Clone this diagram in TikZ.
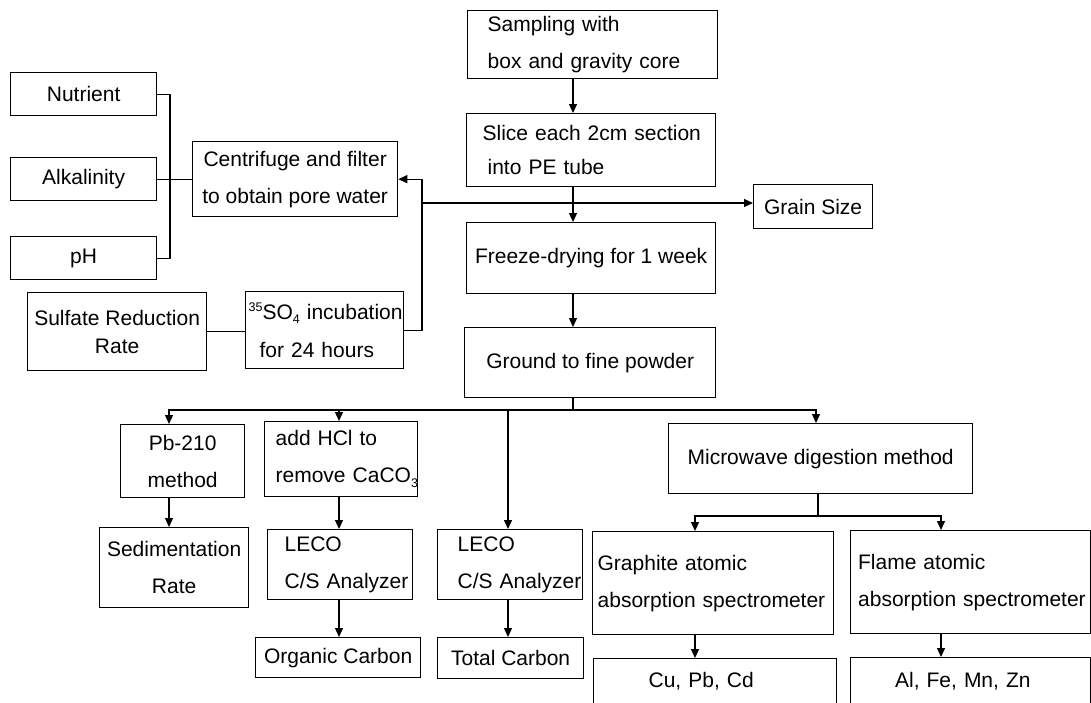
\documentclass[tikz,border=0pt]{standalone}
\usepackage{fontspec}
\setmainfont{Liberation Sans}
\usetikzlibrary{arrows.meta}
\newcommand{\mysup}[1]{\raisebox{7.5pt}{\fontsize{12.5}{12.5}\selectfont #1}}
\newcommand{\mysub}[1]{\raisebox{-4.5pt}{\fontsize{12.5}{12.5}\selectfont #1}}
\begin{document}
\begin{tikzpicture}[x=1pt,y=-1pt,
  box/.style={draw, line width=1.3pt, inner sep=0pt, anchor=north west, font=\fontsize{21}{37}\selectfont, align=center},
  lbox/.style={box, align=left},
  arr/.style={line width=1.3pt, -{Triangle[length=9pt,width=8pt]}},
  ln/.style={line width=1.3pt}]
\clip (0,0) rectangle (1091,702);
\fill[white] (0,0) rectangle (1091,702);
% top column
\node[lbox, minimum width=250pt, minimum height=68pt, text width=210pt] (samp) at (467,10) {\mbox{Sampling with}\\\mbox{box and gravity core}};
\node[lbox, minimum width=249pt, minimum height=73pt, text width=217pt, font=\fontsize{21}{34}\selectfont] (slice) at (466,113) {\mbox{Slice each 2cm section}\\\mbox{\hspace*{5pt}into PE tube}};
\node[box, minimum width=119pt, minimum height=44pt] (grain) at (753,184) {Grain Size};
\node[box, minimum width=249pt, minimum height=71pt] (freeze) at (466,222) {Freeze-drying for 1 week};
\node[box, minimum width=251pt, minimum height=70pt] (ground) at (464,327) {Ground to fine powder};
% left side
\node[box, minimum width=205pt, minimum height=75pt] (cent) at (192,141) {Centrifuge and filter\\to obtain pore water};
\node[box, minimum width=146pt, minimum height=43pt] (nut) at (10,72) {Nutrient};
\node[box, minimum width=146pt, minimum height=43pt] (alk) at (10,157) {Alkalinity};
\node[box, minimum width=146pt, minimum height=43pt] (ph) at (10,236) {pH};
\node[box, minimum width=179pt, minimum height=78pt, font=\fontsize{21}{28}\selectfont] (sulf) at (27,292) {Sulfate Reduction\\Rate};
\node[lbox, minimum width=158pt, minimum height=77pt, text width=152pt, font=\fontsize{21}{38}\selectfont] (so4) at (245,291) {\mbox{\mysup{35}SO\mysub{4} incubation}\\\mbox{\hspace*{11pt}for 24 hours}};
% bottom
\node[box, minimum width=124pt, minimum height=73pt] (pb) at (120,424) {Pb-210\\method};
\node[lbox, minimum width=153pt, minimum height=75pt, text width=131pt] (hcl) at (264,421) {\mbox{add HCl to}\\\mbox{remove CaCO\mysub{3}}};
\node[box, minimum width=149pt, minimum height=80pt] (sed) at (99,527) {Sedimentation\\Rate};
\node[lbox, minimum width=145pt, minimum height=70pt, text width=111pt] (leco1) at (267,529) {\mbox{LECO}\\\mbox{C/S Analyzer}};
\node[lbox, minimum width=145pt, minimum height=70pt, text width=105pt] (leco2) at (437,529) {\mbox{LECO}\\\mbox{C/S Analyzer}};
\node[box, minimum width=165pt, minimum height=40pt] (org) at (255,637) {Organic Carbon};
\node[box, minimum width=146pt, minimum height=41pt] (tot) at (437,637) {Total Carbon};
\node[box, minimum width=304pt, minimum height=70pt] (micro) at (668,423) {Microwave digestion method};
\node[lbox, minimum width=241pt, minimum height=103pt, text width=231pt] (graph) at (592,531) {\mbox{Graphite atomic}\\\mbox{absorption spectrometer}};
\node[lbox, minimum width=240pt, minimum height=103pt, text width=225pt] (flame) at (850,530) {\mbox{Flame atomic}\\\mbox{absorption spectrometer}};
\node[lbox, minimum width=243pt, minimum height=46pt, text width=133pt] (cu) at (593,658) {\mbox{Cu, Pb, Cd}};
\node[lbox, minimum width=240pt, minimum height=47pt, text width=151pt] (al) at (850,657) {\mbox{Al, Fe, Mn, Zn}};
% main column connectors
\coordinate (xm) at (573,0);
\draw[arr] (samp.south -| xm) -- (slice.north -| xm);
\draw[arr] (slice.south -| xm) -- (freeze.north -| xm);
\draw[arr] (freeze.south -| xm) -- (ground.north -| xm);
\coordinate (J) at (422,203);
\draw[arr] (J) -- (J -| grain.west);
\draw[arr] (so4.east) -| (J) |- (cent.east);
% left bracket
\coordinate (bx) at (170,0);
\draw[ln] (nut.east) -- (nut.east -| bx) -- (ph.east -| bx) -- (ph.east);
\draw[ln] (alk.east) -- (cent.west);
\draw[ln] (sulf.east) -- (sulf.east -| so4.west);
% bottom branches
\coordinate (B) at (573,410);
\coordinate (xa) at (169,0);
\coordinate (xb) at (339,0);
\coordinate (xe) at (508,0);
\coordinate (xd) at (816,0);
\draw[ln] (ground.south -| xm) -- (B);
\draw[arr] (B) -| (pb.north -| xa);
\draw[arr] (B) -| (hcl.north -| xb);
\draw[arr] (B) -| (leco2.north -| xe);
\draw[arr] (B) -| (micro.north -| xd);
\draw[arr] (pb.south -| xa) -- (sed.north -| xa);
\draw[arr] (hcl.south -| xb) -- (leco1.north -| xb);
\draw[arr] (leco1.south -| xb) -- (org.north -| xb);
\draw[arr] (leco2.south -| xe) -- (tot.north -| xe);
\coordinate (M) at (818,516);
\coordinate (xg) at (695,0);
\coordinate (xf) at (941,0);
\draw[ln] (micro.south -| M) -- (M);
\draw[arr] (M) -| (graph.north -| xg);
\draw[arr] (M) -| (flame.north -| xf);
\draw[arr] (graph.south -| xg) -- (cu.north -| xg);
\draw[arr] (flame.south -| xf) -- (al.north -| xf);
\end{tikzpicture}
\end{document}
